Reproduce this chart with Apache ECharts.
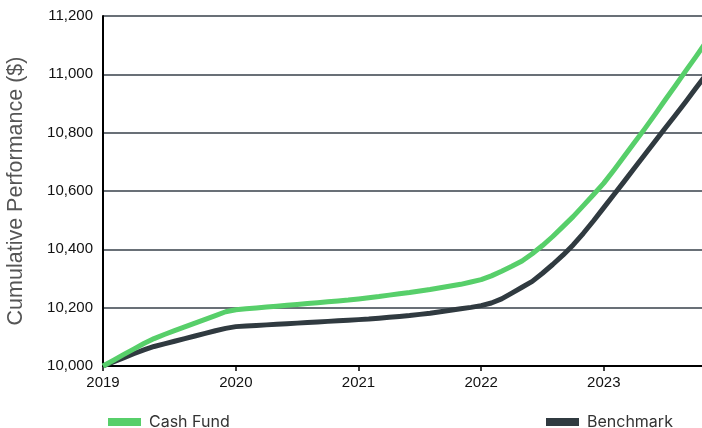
<!DOCTYPE html>
<html>
<head>
<meta charset="utf-8">
<script src="https://cdn.jsdelivr.net/npm/echarts@6/dist/echarts.min.js"></script>
<style>
html,body{margin:0;padding:0;background:#fff;}
#chart{width:702px;height:428px;}
</style>
</head>
<body>
<div id="chart"></div>
<script>
// Monthly categories, Dec 2018 (inception) .. Nov 2023
var categories = [
  '2018-12',
  '2019-01','2019-02','2019-03','2019-04','2019-05','2019-06','2019-07','2019-08','2019-09','2019-10','2019-11','2019-12',
  '2020-01','2020-02','2020-03','2020-04','2020-05','2020-06','2020-07','2020-08','2020-09','2020-10','2020-11','2020-12',
  '2021-01','2021-02','2021-03','2021-04','2021-05','2021-06','2021-07','2021-08','2021-09','2021-10','2021-11','2021-12',
  '2022-01','2022-02','2022-03','2022-04','2022-05','2022-06','2022-07','2022-08','2022-09','2022-10','2022-11','2022-12',
  '2023-01','2023-02','2023-03','2023-04','2023-05','2023-06','2023-07','2023-08','2023-09','2023-10','2023-11'
];

// Year tick labels keyed by category
var xTickLabels = {
  '2018-12': '2019',
  '2020-01': '2020',
  '2021-01': '2021',
  '2022-01': '2022',
  '2023-01': '2023'
};

var cashFund = [
  10000,
  10019,10039,10058,10077,10094,10108,10121,10134,10147,10160,10173,10186,
  10193,10196,10199,10202,10205,10208,10211,10214,10217,10220,10223,10226,
  10230,10234,10238,10243,10248,10252,10257,10262,10268,10274,10280,10288,
  10296,10309,10325,10342,10360,10385,10413,10444,10478,10512,10550,10588,
  10627,10672,10719,10766,10813,10862,10912,10961,11011,11060,11110
];

var benchmark = [
  10000,
  10014,10028,10042,10055,10067,10076,10085,10094,10103,10112,10121,10129,
  10135,10137,10139,10141,10143,10145,10147,10149,10151,10153,10155,10157,
  10159,10161,10164,10167,10170,10173,10177,10181,10186,10191,10196,10201,
  10207,10216,10230,10250,10270,10290,10318,10348,10380,10415,10455,10498,
  10543,10588,10633,10679,10724,10770,10815,10860,10905,10952,10998
];

var yMin = 10000, yMax = 11200, yStep = 200;

function isYearTick(idx, val) { return xTickLabels.hasOwnProperty(val); }

var chart = echarts.init(document.getElementById('chart'), null, {renderer: 'canvas'});
chart.setOption({
  animation: false,
  backgroundColor: '#ffffff',
  grid: { left: 103, top: 16, bottom: 62, right: -4, containLabel: false, outerBoundsMode: 'none' },
  legend: [
    {
      data: ['Cash Fund'],
      left: 108, top: 414, padding: 0,
      icon: 'rect', itemWidth: 33, itemHeight: 8,
      textStyle: { fontFamily: 'Inter', fontSize: 16, color: '#333', padding: [0,0,0,3] }
    },
    {
      data: ['Benchmark'],
      left: 546, top: 414, padding: 0,
      icon: 'rect', itemWidth: 33, itemHeight: 8,
      textStyle: { fontFamily: 'Inter', fontSize: 16, color: '#333', padding: [0,0,0,3] }
    }
  ],
  xAxis: {
    type: 'category',
    data: categories,
    boundaryGap: false,
    axisLine: { show: true, lineStyle: { color: '#000', width: 2 } },
    axisTick: { show: true, interval: isYearTick, length: 5, lineStyle: { color: '#000', width: 1.5 } },
    axisLabel: {
      interval: isYearTick,
      formatter: function (v) { return xTickLabels[v] || ''; },
      color: '#111', fontFamily: 'Liberation Sans', fontSize: 15, margin: 9
    },
    splitLine: { show: false }
  },
  yAxis: {
    type: 'value',
    min: yMin, max: yMax, interval: yStep,
    name: 'Cumulative Performance ($)',
    nameLocation: 'middle',
    nameGap: 76,
    nameTextStyle: { color: '#555', fontFamily: 'Liberation Sans', fontSize: 21.5 },
    axisLine: { show: true, lineStyle: { color: '#000', width: 2 } },
    axisTick: { show: false },
    axisLabel: {
      color: '#111', fontFamily: 'Liberation Sans', fontSize: 15, margin: 10,
      formatter: function (v) { return v.toLocaleString('en-US'); }
    },
    splitLine: { show: true, lineStyle: { color: '#37414a', width: 1.5 } }
  },
  series: [
    {
      name: 'Cash Fund', type: 'line', data: cashFund,
      showSymbol: false, symbol: 'none',
      lineStyle: { color: '#57cf6a', width: 5, join: 'round' },
      itemStyle: { color: '#57cf6a' },
      z: 3
    },
    {
      name: 'Benchmark', type: 'line', data: benchmark,
      showSymbol: false, symbol: 'none',
      lineStyle: { color: '#303a40', width: 5, join: 'round' },
      itemStyle: { color: '#303a40' },
      z: 2
    }
  ]
});
</script>
</body>
</html>
